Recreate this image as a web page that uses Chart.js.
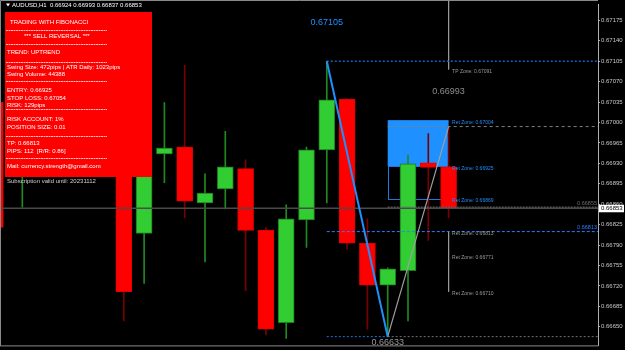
<!DOCTYPE html>
<html><head><meta charset="utf-8">
<script src="https://cdn.jsdelivr.net/npm/chart.js@4.4.1/dist/chart.umd.min.js"></script>
<style>html,body{margin:0;padding:0;background:#000;}canvas{display:block}</style>
</head><body>
<div style="width:625px;height:350px;position:relative"><canvas id="c" width="625" height="350"></canvas></div>
<script>
// ---- data ----
const chartTitle = 'AUDUSD,H1  0.66924 0.66993 0.66837 0.66853';
const candleIndex = [-0.33,1,2,3,4,5,6,7,8,9,10,11,12,13,14,15,16,17,18,19,20,21,22];
const opens  = [0.67035,0.66925,0.66990,0.66950,0.67040,0.66995,0.66960,0.66810,0.66946,0.66958,0.66862,0.66886,0.66921,0.66815,0.66657,0.66833,0.66953,0.67040,0.66793,0.66721,0.66746,0.66931,0.66924];
const highs  = [0.67035,0.67010,0.67020,0.67060,0.67080,0.67070,0.66975,0.66965,0.67034,0.67098,0.66912,0.66985,0.66936,0.66820,0.66859,0.66958,0.67105,0.67041,0.66835,0.66751,0.66944,0.66981,0.66993];
const lows   = [0.66820,0.66855,0.66930,0.66935,0.66980,0.66975,0.66660,0.66724,0.66897,0.66837,0.66761,0.66852,0.66712,0.66636,0.66630,0.66786,0.66862,0.66783,0.66646,0.66633,0.66660,0.66798,0.66837];
const closes = [0.66820,0.66985,0.66950,0.67040,0.66995,0.67050,0.66710,0.66948,0.66956,0.66865,0.66879,0.66924,0.66815,0.66646,0.66835,0.66953,0.67039,0.66793,0.66721,0.66749,0.66929,0.66923,0.66853];
const yTickLabels = ['0.66650','0.66685','0.66720','0.66755','0.66790','0.66825','0.66860','0.66895','0.66930','0.66965','0.67000','0.67035','0.67070','0.67105','0.67140','0.67175'];
const swingHighIdx = 16, swingHigh = 0.67105;
const swingLowIdx = 19, swingLow = 0.66633;
const lastIdx = 22, lastHigh = 0.66993;
const retZoneValues = [0.67004, 0.66925, 0.66869, 0.66813, 0.66771, 0.66710];
const tpZone = 0.67091;
const tpLevel = 0.66813;
const bidPrice = 0.66853;
const markLevel = 0.66855;
const panelLines = [
  ['TRADING WITH FIBONACCI', 10, 22],
  ['*** SELL REVERSAL ***', 24, 36],
  ['TREND: UPTREND', 7, 52],
  ['Swing Size: 472pips | ATR Daily: 1023pips', 7, 67],
  ['Swing Volume: 44388', 7, 74],
  ['ENTRY: 0.66925', 7, 90],
  ['STOP LOSS: 0.67054', 7, 98],
  ['RISK: 129pips', 7, 105],
  ['RISK ACCOUNT: 1%', 7, 119],
  ['POSITION SIZE: 0.01', 7, 127],
  ['TP: 0.66813', 7, 143],
  ['PIPS: 112  [R/R: 0.86]', 7, 151],
  ['Mail: currency.strength@gmail.com', 7, 166]
];
const panelSeparators = [30, 44, 62, 81, 109, 136, 158];
const subscriptionText = 'Subscription valid until: 20231112';

// ---- build ----
const FONT = '"Liberation Sans", Arial, sans-serif';
const N = candleIndex.length;
const ids = [...Array(N).keys()];
const isUp = ids.map(i => closes[i] >= opens[i]);
const bodyColor = isUp.map(u => u ? '#32CD32' : '#FF0000');
const bodyBorder = isUp.map(u => u ? '#1d7a1d' : '#e00000');
const wickColor = isUp.map(u => u ? '#1f8a1f' : '#7a0000');
const XMAX = 29.36;

const lineDs = (pts, color, width, dash, order) => ({
  type: 'line', data: pts, borderColor: color, borderWidth: width, borderDash: dash || [],
  pointRadius: 0, fill: false, tension: 0, order: order, clip: false
});

const datasets = [
  { type: 'bar', data: ids.map(i => ({x: candleIndex[i], y: [lows[i], highs[i]]})),
    backgroundColor: wickColor, borderWidth: 0, barThickness: 1, grouped: false, order: 5 },
  { type: 'bar', data: ids.map(i => ({x: candleIndex[i], y: [Math.min(opens[i], closes[i]), Math.max(opens[i], closes[i])]})),
    backgroundColor: bodyColor, borderColor: bodyBorder, borderWidth: 1, borderSkipped: false,
    barThickness: 16, grouped: false, order: 4 },
  // horizontal level lines
  lineDs([{x: swingHighIdx, y: swingHigh}, {x: XMAX, y: swingHigh}], '#1f5cc4', 1.5, [2, 2], 3),
  lineDs([{x: swingHighIdx, y: tpLevel}, {x: XMAX, y: tpLevel}], '#2a7fff', 1, [3, 2], 3),
  lineDs([{x: swingHighIdx, y: swingLow}, {x: swingLowIdx, y: swingLow}], '#2a6fdf', 1, [2, 2], 3),
  lineDs([{x: swingLowIdx, y: swingLow}, {x: XMAX, y: swingLow}], '#707070', 1, [2, 2], 3),
  lineDs([{x: swingLowIdx, y: lastHigh}, {x: XMAX, y: lastHigh}], '#808080', 1, [3, 3], 3),
  lineDs([{x: swingLowIdx, y: markLevel}, {x: XMAX, y: markLevel}], '#6a6a6a', 1, [2, 1], 3),
  lineDs([{x: -0.05, y: bidPrice}, {x: XMAX, y: bidPrice}], '#4a4a4a', 1.5, [], 3),
  // TP zone vertical lines
  lineDs([{x: lastIdx, y: 0.68}, {x: lastIdx, y: tpZone}], '#9a9a9a', 1, [], 3),
  lineDs([{x: lastIdx, y: retZoneValues[3]}, {x: lastIdx, y: retZoneValues[5]}], '#9a9a9a', 1, [], 3),
  // swing lines
  lineDs([{x: swingHighIdx, y: swingHigh}, {x: swingLowIdx, y: swingLow}], '#1E90FF', 2, [], 0),
  lineDs([{x: swingLowIdx, y: swingLow}, {x: lastIdx, y: lastHigh}], '#a0a0a0', 1.2, [], 0)
];

const overlay = {
  id: 'overlay',
  beforeDatasetsDraw(chart) {
    const {ctx, scales: {x, y}} = chart;
    const x0 = x.getPixelForValue(swingLowIdx), x1 = x.getPixelForValue(lastIdx);
    ctx.save();
    ctx.fillStyle = '#1E90FF';
    const yt = y.getPixelForValue(retZoneValues[0]), yb = y.getPixelForValue(retZoneValues[1]);
    ctx.fillRect(x0, yt, x1 - x0, yb - yt);
    ctx.strokeStyle = '#1E78E0'; ctx.lineWidth = 1;
    const yb2 = y.getPixelForValue(retZoneValues[2]);
    ctx.strokeRect(Math.round(x0) + 0.5, Math.round(yb) + 0.5, Math.round(x1 - x0), Math.round(yb2 - yb));
    ctx.restore();
  },
  afterDraw(chart) {
    const {ctx, chartArea: a, scales: {x, y}} = chart;
    ctx.save();
    // frame
    ctx.strokeStyle = '#8a8a8a'; ctx.lineWidth = 1;
    ctx.beginPath();
    ctx.moveTo(0.5, a.bottom + 0.5); ctx.lineTo(0.5, 0.5); ctx.lineTo(a.right, 0.5);
    ctx.moveTo(0, a.bottom + 0.5); ctx.lineTo(a.right, a.bottom + 0.5);
    ctx.stroke();
    // level labels
    ctx.textBaseline = 'middle';
    ctx.font = '9px ' + FONT;
    ctx.textAlign = 'center';
    ctx.fillStyle = '#1E90FF';
    ctx.fillText(swingHigh.toFixed(5), x.getPixelForValue(swingHighIdx), 23);
    ctx.fillStyle = '#8c8c8c';
    ctx.fillText(lastHigh.toFixed(5), x.getPixelForValue(lastIdx), y.getPixelForValue(lastHigh) - 35);
    ctx.fillStyle = '#9a9a9a';
    ctx.fillText(swingLow.toFixed(5), x.getPixelForValue(swingLowIdx), y.getPixelForValue(swingLow) + 6);
    // zone labels
    ctx.font = '5px ' + FONT;
    ctx.textAlign = 'left';
    const lx = x.getPixelForValue(lastIdx) + 3.5;
    ctx.fillStyle = '#9a9a9a';
    ctx.fillText('TP Zone: ' + tpZone.toFixed(5), lx, y.getPixelForValue(tpZone) + 2);
    retZoneValues.forEach((v, k) => {
      ctx.fillStyle = k < 3 ? '#1E90FF' : '#9a9a9a';
      ctx.fillText('Ret Zone: ' + v.toFixed(5), lx, y.getPixelForValue(v) + 2);
    });
    // right-edge labels
    ctx.font = '5.5px ' + FONT;
    ctx.textAlign = 'right';
    ctx.fillStyle = '#6a6a6a';
    ctx.fillText(markLevel.toFixed(5), a.right - 1, y.getPixelForValue(markLevel) - 4);
    ctx.fillStyle = '#2a7fff';
    ctx.fillText(tpLevel.toFixed(5), a.right - 1, y.getPixelForValue(tpLevel) - 4);
    // bid box
    const by = y.getPixelForValue(bidPrice);
    ctx.fillStyle = '#ffffff';
    ctx.fillRect(a.right + 1, by - 3.5, 25, 7.5);
    ctx.fillStyle = '#000';
    ctx.textAlign = 'left';
    ctx.font = '6px ' + FONT;
    ctx.fillText(bidPrice.toFixed(5), a.right + 3, by + 0.5);
    // title
    ctx.fillStyle = '#ffffff';
    ctx.beginPath(); ctx.moveTo(6, 3.5); ctx.lineTo(10, 3.5); ctx.lineTo(8, 6.5); ctx.closePath(); ctx.fill();
    ctx.font = '6px ' + FONT;
    ctx.fillText(chartTitle, 12, 5.5);
    // info panel
    ctx.fillStyle = '#FF0000';
    ctx.fillRect(5, 12, 147, 165);
    ctx.fillStyle = '#ffffff';
    ctx.font = '6px ' + FONT;
    panelLines.forEach(([t, px, py]) => ctx.fillText(t, px, py));
    ctx.strokeStyle = 'rgba(255,220,220,0.85)'; ctx.lineWidth = 1;
    ctx.setLineDash([2, 0.5]);
    panelSeparators.forEach(sy => { ctx.beginPath(); ctx.moveTo(6, sy + 0.5); ctx.lineTo(107, sy + 0.5); ctx.stroke(); });
    ctx.setLineDash([]);
    ctx.fillStyle = '#cfcfcf';
    ctx.fillText(subscriptionText, 7, 181);
    ctx.restore();
  }
};

new Chart(document.getElementById('c'), {
  type: 'bar',
  data: { datasets },
  options: {
    responsive: false, animation: false, devicePixelRatio: 1,
    layout: { padding: { left: 1, top: 1, right: 0, bottom: 2 } },
    plugins: { legend: { display: false }, tooltip: { enabled: false } },
    scales: {
      x: { type: 'linear', min: -0.05, max: XMAX, display: false, offset: false },
      y: {
        type: 'linear', position: 'right', min: 0.66618, max: 0.67202,
        afterBuildTicks: s => { s.ticks = yTickLabels.map(v => ({ value: parseFloat(v) })); },
        afterFit: s => { s.width = 27; },
        ticks: { color: '#c8c8c8', font: { size: 6, family: FONT }, padding: 1,
                 callback: v => v.toFixed(5), autoSkip: false },
        grid: { drawOnChartArea: false, tickLength: 2, color: '#b0b0b0' },
        border: { display: true, color: '#b0b0b0' }
      }
    }
  },
  plugins: [overlay]
});
</script>
</body></html>
